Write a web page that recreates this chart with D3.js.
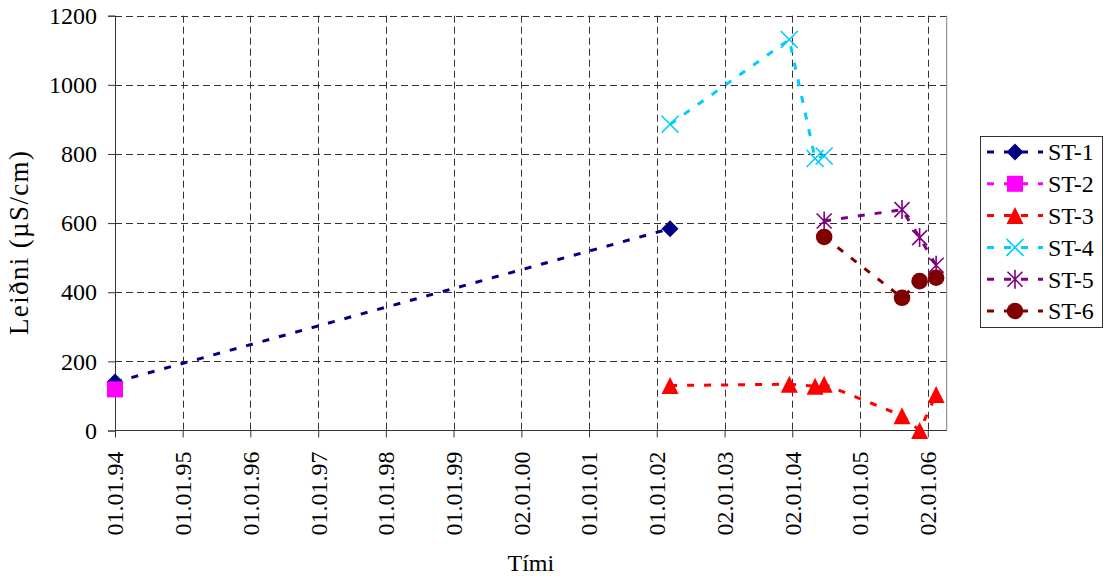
<!DOCTYPE html>
<html>
<head>
<meta charset="utf-8">
<script src="https://cdn.jsdelivr.net/npm/d3@7"></script>
<style>
  html, body { margin: 0; padding: 0; background: #fff; }
  svg { display: block; }
  text { font-family: "Liberation Serif", "Times New Roman", serif; fill: #000; }
</style>
</head>
<body>
<svg id="chart" width="1104" height="579"></svg>
<script>
// ---------- data ----------
const xTickLabels = ["01.01.94","01.01.95","01.01.96","01.01.97","01.01.98","01.01.99","02.01.00","01.01.01","01.01.02","02.01.03","02.01.04","01.01.05","02.01.06"];
const yTicks = [0, 200, 400, 600, 800, 1000, 1200];
const seriesNames = ["ST-1", "ST-2", "ST-3", "ST-4", "ST-5", "ST-6"];
const seriesColors = ["#000080", "#FF00FF", "#FF0000", "#00CCFF", "#800080", "#800000"];
const seriesMarkers = ["diamond", "square", "triangle", "x", "star", "circle"];

const st1Dates = ["1994-01-01", "2002-03-14"];
const st1Values = [140, 584];
const st2Dates = ["1994-01-01"];
const st2Values = [119];
const st3Dates = ["2002-03-14", "2003-12-17", "2004-05-04", "2004-06-22", "2005-08-16", "2005-11-19", "2006-02-16"];
const st3Values = [130, 134, 128, 134, 43, 0, 104];
const st4Dates = ["2002-03-14", "2003-12-17", "2004-05-04", "2004-06-22"];
const st4Values = [886, 1131, 787, 794];
const st5Dates = ["2004-06-22", "2005-08-16", "2005-11-19", "2006-02-16"];
const st5Values = [606, 639, 558, 478];
const st6Dates = ["2004-06-22", "2005-08-16", "2005-11-19", "2006-02-16"];
const st6Values = [560, 384, 432, 442];

const xDomain = ["1994-01-01", "2006-04-14"];
const yDomain = [0, 1200];

// ---------- build ----------
(function () {
const parseISO = d3.utcParse("%Y-%m-%d");
const parseLabel = d3.utcParse("%d.%m.%y");
const allDates = [st1Dates, st2Dates, st3Dates, st4Dates, st5Dates, st6Dates];
const allValues = [st1Values, st2Values, st3Values, st4Values, st5Values, st6Values];
const series = seriesNames.map((name, i) => ({
  name, color: seriesColors[i], marker: seriesMarkers[i],
  points: allDates[i].map((d, j) => ({ date: parseISO(d), value: allValues[i][j] }))
}));

const svg = d3.select("#chart");
const pL = 115, pR = 946.7, pT = 15.7, pB = 430.5;

const x = d3.scaleUtc().domain(xDomain.map(parseISO)).range([pL, pR]);
const y = d3.scaleLinear().domain(yDomain).range([pB, pT]);
const tickDates = xTickLabels.map(parseLabel);

// gridlines
const grid = svg.append("g").attr("stroke", "#333").attr("stroke-width", 1).attr("stroke-dasharray", "7,4").attr("fill", "none");
yTicks.filter(t => t > 0).forEach(t => {
  grid.append("line").attr("x1", pL).attr("x2", pR).attr("y1", Math.round(y(t)) + 0.5).attr("y2", Math.round(y(t)) + 0.5);
});
tickDates.slice(1).forEach(d => {
  grid.append("line").attr("x1", Math.round(x(d)) + 0.5).attr("x2", Math.round(x(d)) + 0.5).attr("y1", pT).attr("y2", pB);
});

// plot border (right side)
svg.append("line").attr("x1", pR).attr("x2", pR).attr("y1", pT).attr("y2", pB)
  .attr("stroke", "#808080").attr("stroke-width", 1);

// axes
const yAxis = d3.axisLeft(y).tickValues(yTicks).tickSize(7).tickPadding(11).tickFormat(d3.format("d"));
const gy = svg.append("g").attr("transform", `translate(${pL},0)`).call(yAxis);
gy.selectAll("path,line").attr("stroke", "#333");
gy.selectAll("text").style("font-family", "'Liberation Serif', serif").style("font-size", "24px").attr("fill", "#000");

const xAxis = d3.axisBottom(x).tickValues(tickDates).tickSize(7).tickFormat((d, i) => xTickLabels[i]);
const gx = svg.append("g").attr("transform", `translate(0,${pB})`).call(xAxis);
gx.select(".domain").attr("d", `M${pL},0H${pR}`);
gx.selectAll("path,line").attr("stroke", "#333");
gx.selectAll("text")
  .style("font-family", "'Liberation Serif', serif").style("font-size", "24px").attr("fill", "#000")
  .attr("text-anchor", "end")
  .attr("transform", "translate(0,21) rotate(-90)")
  .attr("x", 0).attr("y", 0).attr("dy", "0.33em");

// axis titles
svg.append("text").attr("x", (pL + pR) / 2).attr("y", 571)
  .attr("text-anchor", "middle").style("font-size", "24px").text("Tími");
svg.append("text").attr("transform", `translate(28,${243}) rotate(-90)`)
  .attr("text-anchor", "middle").style("font-size", "27px")
  .attr("textLength", 184).attr("lengthAdjust", "spacing").text("Leiðni (µS/cm)");

// marker drawing
function drawMarker(g, type, color) {
  const s = 8.5;
  if (type === "diamond") {
    g.append("path").attr("d", `M0,${-s}L${s},0L0,${s}L${-s},0Z`).attr("fill", color);
  } else if (type === "square") {
    g.append("rect").attr("x", -8).attr("y", -8).attr("width", 16).attr("height", 16).attr("fill", color);
  } else if (type === "triangle") {
    g.append("path").attr("d", `M0,${-s}L${s},${s}L${-s},${s}Z`).attr("fill", color);
  } else if (type === "x") {
    g.append("path").attr("d", `M${-s},${-s}L${s},${s}M${-s},${s}L${s},${-s}`)
      .attr("stroke", color).attr("stroke-width", 1.6).attr("fill", "none");
  } else if (type === "star") {
    g.append("path").attr("d", `M${-s+1},${-s+1}L${s-1},${s-1}M${-s+1},${s-1}L${s-1},${-s+1}M0,${-s-1}L0,${s+1}`)
      .attr("stroke", color).attr("stroke-width", 1.6).attr("fill", "none");
  } else if (type === "circle") {
    g.append("circle").attr("r", 8.3).attr("fill", color);
  }
}

// lines
const line = d3.line().x(d => x(d.date)).y(d => y(d.value));
series.forEach(s => {
  if (s.points.length > 1) {
    svg.append("path").datum(s.points).attr("d", line)
      .attr("fill", "none").attr("stroke", s.color).attr("stroke-width", 3)
      .attr("stroke-dasharray", "7,10");
  }
});
// markers
series.forEach(s => {
  s.points.forEach(p => {
    const g = svg.append("g").attr("transform", `translate(${x(p.date)},${y(p.value)})`);
    drawMarker(g, s.marker, s.color);
  });
});

// legend
const lgX = 980.5, lgY = 136.5, lgW = 122, lgH = 191;
svg.append("rect").attr("x", lgX).attr("y", lgY).attr("width", lgW).attr("height", lgH)
  .attr("fill", "#fff").attr("stroke", "#333").attr("stroke-width", 1);
series.forEach((s, i) => {
  const cy = 152 + i * 31.8;
  svg.append("line").attr("x1", 987).attr("x2", 1043).attr("y1", cy).attr("y2", cy)
    .attr("stroke", s.color).attr("stroke-width", 3).attr("stroke-dasharray", "7,10");
  const g = svg.append("g").attr("transform", `translate(1015,${cy})`);
  drawMarker(g, s.marker, s.color);
  svg.append("text").attr("x", 1048).attr("y", cy).attr("dy", "0.35em")
    .style("font-size", "24px").text(s.name);
});
})();
</script>
</body>
</html>
